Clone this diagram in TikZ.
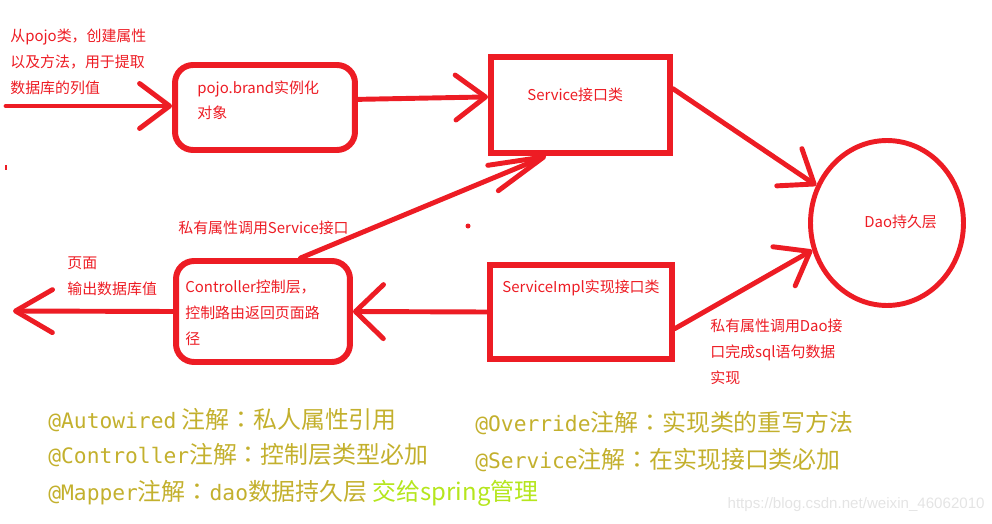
\documentclass[tikz,border=0pt]{standalone}
\usepackage{fontspec}
\setmainfont{Noto Sans CJK SC}
\newfontfamily\notefont{Noto Sans CJK TC}
\newfontfamily\monofont[Scale=0.89]{DejaVu Sans Mono}
\newfontfamily\urlfont{Liberation Sans}
\usetikzlibrary{arrows.meta,shapes.geometric}
\definecolor{paintred}{HTML}{ED1C24}
\definecolor{olivetext}{HTML}{C3B02D}
\definecolor{limetext}{HTML}{B5E61D}
\definecolor{markgray}{HTML}{E4E4E4}

\begin{document}
\begin{tikzpicture}[x=0.02cm, y=-0.02cm,
    sqbox/.style={draw=paintred, line width=3.4pt, inner sep=0pt},
    rbox/.style={sqbox, rounded corners=0.36cm},
    flow/.style={draw=paintred, line width=2.8pt, line cap=round,
        -{Straight Barb[length=0.6cm, width=0.9cm, round]}},
    redtxt/.style={text=paintred, font=\fontsize{8.5}{14.8}\selectfont,
        align=left, inner sep=0pt, anchor=west},
    notetxt/.style={text=olivetext, font=\notefont\fontsize{13.6}{16}\selectfont,
        inner sep=0pt, anchor=west}]
    \useasboundingbox (0,0) rectangle (992,524);

    % Boxes
    \node[rbox, minimum width=3.6cm, minimum height=1.7cm] (pojo) at (265,107.5) {};
    \node[sqbox, minimum width=3.58cm, minimum height=1.92cm] (svc) at (580.5,105) {};
    \node[sqbox, minimum width=3.64cm, minimum height=1.88cm] (impl) at (581,312) {};
    \node[rbox, minimum width=3.48cm, minimum height=2.02cm] (ctrl) at (263,311.5) {};
    \node[draw=paintred, line width=2.8pt, ellipse, inner sep=0pt,
        minimum width=3.06cm, minimum height=3.3cm] (dao) at (887,223) {};

    % Texts inside
    \node[redtxt] (pojotxt) at (197,100.5) {pojo.brand实例化\\[-0.6pt]对象};
    \node[redtxt] (svctxt) at (527,95) {Service接口类};
    \node[redtxt] (impltxt) at (502,288) {ServiceImpl实现接口类};
    \node[redtxt] (ctrltxt) at (185,313) {Controller控制层，\\控制路由返回页面路\\径};
    \node[redtxt] (daotxt) at (864,222) {Dao持久层};

    % Connectors
    \coordinate (src) at (6,106);
    \coordinate (page) at (13,311);
    \draw[flow] (src) -- (pojo.west |- src);
    \draw[flow] (pojo.5) -- (svc.175);
    \draw[flow] (svc.10) -- (dao.152);
    \draw[flow, -{Straight Barb[length=1.1cm, width=0.55cm, round]}] (ctrl.55) -- (svc.236);
    \draw[flow] (impl.-10) -- (dao.200);
    \draw[flow, -{Straight Barb[length=0.56cm, width=1.08cm, round]}] (impl.west) -- (ctrl.east);
    \draw[flow, -{Straight Barb[length=0.74cm, width=0.86cm, round]}] (ctrl.west) -- (page);

    % Labels on the arrows
    \node[redtxt] (srctxt) at (10,62) {从pojo类，创建属性\\以及方法，用于提取\\数据库的列值};
    \node[redtxt] (calltxt) at (178,228) {私有属性调用Service接口};
    \node[redtxt] (pagetxt) at (67,276.5) {页面\\输出数据库值};
    \node[redtxt] (daocall) at (710,352) {私有属性调用Dao接\\口完成sql语句数据\\实现};

    % Stray marks
    \fill[paintred] (468,226) circle (2.5);
    \draw[paintred, line width=0.6pt] (6,165) -- (6,170);

    % Notes
    \node[notetxt] (autowired) at (48,420) {{\monofont @Autowired} 注解：私人属性引用};
    \node[notetxt] (override) at (475,423) {{\monofont @Override}注解：实现类的重写方法};
    \node[notetxt] (controller) at (48,455) {{\monofont @Controller}注解：控制层类型必加};
    \node[notetxt] (service) at (475,460) {{\monofont @Service}注解：在实现接口类必加};
    \node[notetxt] (mapper) at (48,493) {{\monofont @Mapper}注解：{\monofont dao}数据持久层 \textcolor{limetext}{交给spring管理}};
    \node[text=markgray, font=\urlfont\fontsize{8.6}{10}\selectfont, inner sep=0pt, anchor=east] (mark) at (985,505) {https://blog.csdn.net/weixin\_46062010};
\end{tikzpicture}
\end{document}
